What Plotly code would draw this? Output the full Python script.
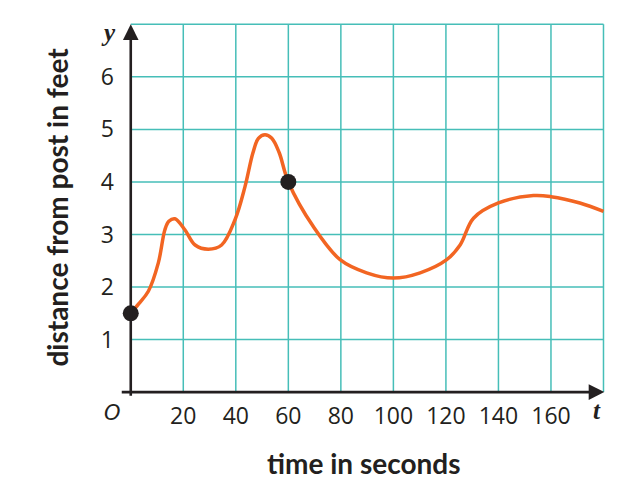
import plotly.graph_objects as go

# distance curve (seconds, feet)
t_vals = [0, 3, 6.7, 10.5, 13, 14.5, 16.8, 20.6, 24.5, 29.5, 34.6, 39.7, 43.5, 46.5, 48.6,
          51.1, 53.7, 56.5, 60, 69.5, 79.7, 89.8, 100, 110.2, 120.3, 125.4, 130.5, 140,
          153.3, 160, 171, 180]
d_vals = [1.5, 1.68, 1.92, 2.46, 3.09, 3.25, 3.30, 3.09, 2.80, 2.72, 2.80, 3.28, 3.91, 4.55, 4.83,
          4.90, 4.83, 4.56, 4.0, 3.15, 2.52, 2.27, 2.17, 2.27, 2.52, 2.80, 3.31, 3.60,
          3.74, 3.72, 3.60, 3.44]

# marked points
dot_t = [0, 60]
dot_d = [1.5, 4]

x_ticks = [20, 40, 60, 80, 100, 120, 140, 160]
y_ticks = [1, 2, 3, 4, 5, 6]
grid_x = [0, 20, 40, 60, 80, 100, 120, 140, 160, 180]
grid_y = [0, 1, 2, 3, 4, 5, 6, 7]

grid_col = "rgb(70,190,184)"
ink = "#231f20"
orange = "#f26522"
font_main = "Open Sans"
font_title = "Lato"

fig = go.Figure()

fig.add_trace(go.Scatter(
    x=t_vals, y=d_vals, mode="lines",
    line=dict(color=orange, width=3.5, shape="spline", smoothing=1.0),
    hoverinfo="skip", showlegend=False,
))
fig.add_trace(go.Scatter(
    x=dot_t, y=dot_d, mode="markers",
    marker=dict(color=ink, size=16),
    cliponaxis=False, hoverinfo="skip", showlegend=False,
))

shapes = []
for gx in grid_x[1:]:
    shapes.append(dict(type="line", xref="x", yref="y", x0=gx, x1=gx, y0=0, y1=grid_y[-1],
                       line=dict(color=grid_col, width=1.5), layer="below"))
for gy in grid_y[1:]:
    shapes.append(dict(type="line", xref="x", yref="y", x0=0, x1=grid_x[-1], y0=gy, y1=gy,
                       line=dict(color=grid_col, width=1.5), layer="below"))

def label(x, y, text, family, size, angle=0):
    return dict(x=x, y=y, xref="paper", yref="paper", text=text, showarrow=False,
                xanchor="center", yanchor="middle", textangle=angle,
                font=dict(family=family, size=size, color=ink))

annotations = [
    # axes with arrows
    dict(x=180.3, y=0, ax=-4, ay=0, xref="x", yref="y", axref="x", ayref="y",
         text="", showarrow=True, arrowhead=2, arrowsize=1.2, arrowwidth=2.6,
         arrowcolor=ink, standoff=0),
    dict(x=0, y=7.0, ax=0, ay=-0.1, xref="x", yref="y", axref="x", ayref="y",
         text="", showarrow=True, arrowhead=2, arrowsize=1.2, arrowwidth=2.6,
         arrowcolor=ink, standoff=0),
    # axis letters
    label(-0.014, 0.961, "<b><i>y</i></b>", "Liberation Serif", 25),
    label(0.966, -0.028, "<b><i>t</i></b>", "Liberation Serif", 25),
    label(-0.006, -0.034, "<i>O</i>", "DejaVu Sans", 21),
    # axis titles
    label(-0.116, 0.504, "<b>distance from post in feet</b>", font_title, 28, -90),
    label(0.499, -0.164, "<b>time in seconds</b>", font_title, 28),
]

# the page body adds an 8px offset, so the figure is drawn 8px smaller
fig.update_layout(
    width=630, height=484,
    margin=dict(l=107, r=24, t=10, b=92),
    paper_bgcolor="white", plot_bgcolor="white",
    shapes=shapes, annotations=annotations,
    xaxis=dict(range=[-6, 184], tickvals=x_ticks, ticktext=[str(v) for v in x_ticks],
               showgrid=False, zeroline=False, showline=False, ticks="",
               tickfont=dict(family=font_main, size=23, color=ink), fixedrange=True),
    yaxis=dict(range=[-0.15, 7.12], tickvals=y_ticks, ticktext=[str(v) for v in y_ticks],
               showgrid=False, zeroline=False, showline=False, ticks="",
               tickfont=dict(family=font_main, size=23, color=ink), fixedrange=True),
)

fig.write_html("out.html")
